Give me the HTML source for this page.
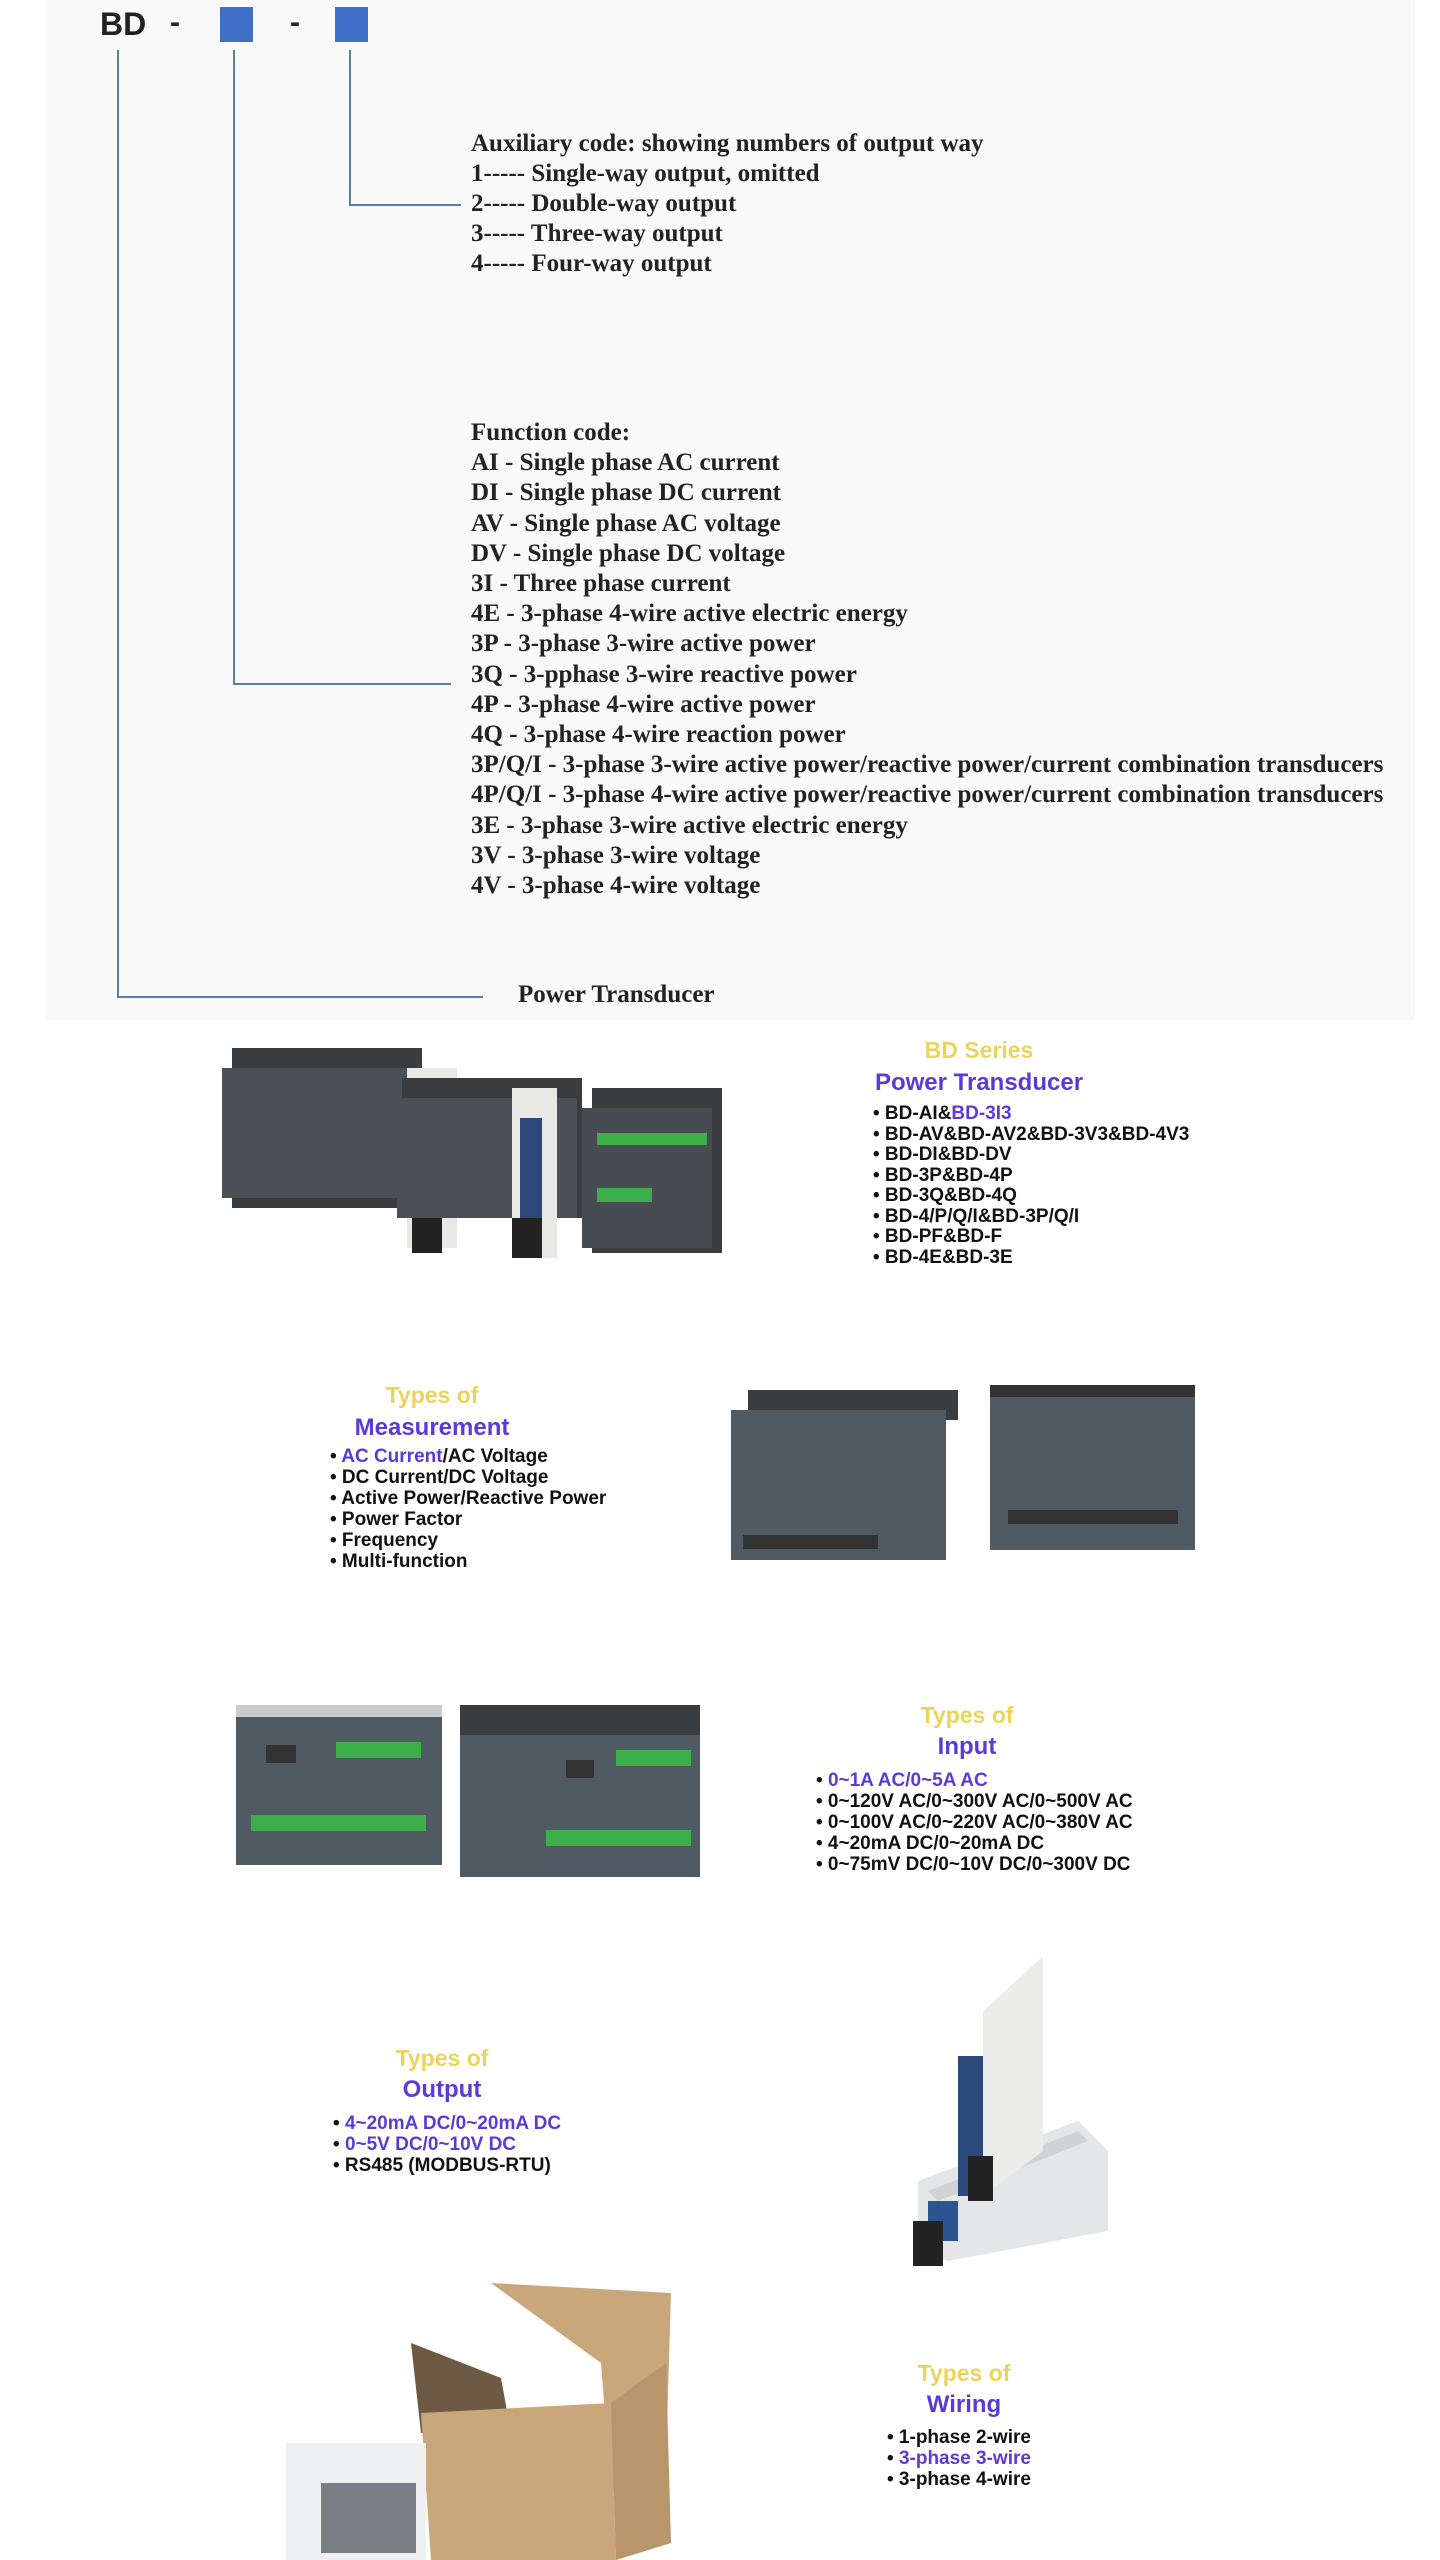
<!DOCTYPE html>
<html><head><meta charset="utf-8"><style>
html,body{margin:0;padding:0;background:#fff;}
body{width:1440px;height:2560px;position:relative;overflow:hidden;font-family:"Liberation Sans",sans-serif;}
.a{position:absolute;white-space:nowrap;}
.serif{font-family:"Liberation Serif",serif;font-weight:bold;font-size:25px;color:#222;line-height:30px;}
.ln{position:absolute;background:#5a7fa0;}
.t1{font-weight:bold;color:#ecd35c;font-size:23px;line-height:24px;transform:translateX(-50%);}
.t2{font-weight:bold;color:#5b3bd6;font-size:24px;line-height:24px;transform:translateX(-50%);}
.ul{font-weight:bold;font-size:19px;line-height:21px;color:#111;}
.p{color:#5b3bd6;}
</style></head><body>
<div class="a" style="left:45px;top:0;width:1370px;height:1020px;background:#f9f9f9;"></div>
<div class="a" style="left:100px;top:6px;font-size:32px;font-weight:bold;color:#222;">BD</div>
<div class="a" style="left:170px;top:6px;font-size:30px;font-weight:bold;color:#222;">-</div>
<div class="a" style="left:290px;top:6px;font-size:30px;font-weight:bold;color:#222;">-</div>
<div class="a" style="left:220px;top:7px;width:33px;height:35px;background:#3f6fc6;"></div>
<div class="a" style="left:335px;top:7px;width:33px;height:35px;background:#3f6fc6;"></div>
<div class="ln" style="left:117px;top:50px;width:2px;height:947px;"></div>
<div class="ln" style="left:117px;top:996px;width:366px;height:2px;"></div>
<div class="ln" style="left:233px;top:50px;width:2px;height:634px;"></div>
<div class="ln" style="left:233px;top:683px;width:218px;height:2px;"></div>
<div class="ln" style="left:349px;top:50px;width:2px;height:156px;"></div>
<div class="ln" style="left:349px;top:204px;width:112px;height:2px;"></div>
<div class="a serif" style="left:471px;top:129px;">Auxiliary code: showing numbers of output way<br>1----- Single-way output, omitted<br>2----- Double-way output<br>3----- Three-way output<br>4----- Four-way output</div>
<div class="a serif" style="left:471px;top:418px;line-height:30.2px;">Function code:<br>AI - Single phase AC current<br>DI - Single phase DC current<br>AV - Single phase AC voltage<br>DV - Single phase DC voltage<br>3I - Three phase current<br>4E - 3-phase 4-wire active electric energy<br>3P - 3-phase 3-wire active power<br>3Q - 3-pphase 3-wire reactive power<br>4P - 3-phase 4-wire active power<br>4Q - 3-phase 4-wire reaction power<br>3P/Q/I - 3-phase 3-wire active power/reactive power/current combination transducers<br>4P/Q/I - 3-phase 4-wire active power/reactive power/current combination transducers<br>3E - 3-phase 3-wire active electric energy<br>3V - 3-phase 3-wire voltage<br>4V - 3-phase 4-wire voltage</div>
<div class="a serif" style="left:518px;top:980px;">Power Transducer</div>

<svg class="a" style="left:222px;top:1028px" width="510" height="232">
<rect x="10" y="20" width="190" height="160" fill="#3a3d40"/><rect x="0" y="40" width="195" height="130" fill="#4a5056"/>
<rect x="185" y="40" width="50" height="180" fill="#e8e8e4"/><rect x="195" y="60" width="25" height="120" fill="#2b4a7a"/>
<rect x="190" y="185" width="30" height="40" fill="#222"/>
<rect x="180" y="50" width="180" height="140" fill="#3a3d40"/><rect x="175" y="70" width="180" height="120" fill="#4a5056"/>
<rect x="290" y="60" width="45" height="170" fill="#e8e8e4"/><rect x="298" y="90" width="22" height="110" fill="#2b4a7a"/>
<rect x="290" y="190" width="30" height="40" fill="#222"/>
<rect x="370" y="60" width="130" height="165" fill="#3a3d40"/><rect x="360" y="80" width="130" height="140" fill="#474c52"/>
<rect x="375" y="105" width="110" height="12" fill="#3cae4a"/><rect x="375" y="160" width="55" height="14" fill="#3cae4a"/>
</svg>
<div class="a t1" style="left:979px;top:1038px;">BD Series</div>
<div class="a t2" style="left:979px;top:1071px;">Power Transducer</div>
<div class="a ul" style="left:873px;top:1104px;line-height:20.5px;">• BD-AI&amp;<span class="p">BD-3I3</span><br>• BD-AV&amp;BD-AV2&amp;BD-3V3&amp;BD-4V3<br>• BD-DI&amp;BD-DV<br>• BD-3P&amp;BD-4P<br>• BD-3Q&amp;BD-4Q<br>• BD-4/P/Q/I&amp;BD-3P/Q/I<br>• BD-PF&amp;BD-F<br>• BD-4E&amp;BD-3E</div>

<div class="a t1" style="left:432px;top:1383px;">Types of</div>
<div class="a t2" style="left:432px;top:1416px;">Measurement</div>
<div class="a ul" style="left:330px;top:1446px;">• <span class="p">AC Current</span>/AC Voltage<br>• DC Current/DC Voltage<br>• Active Power/Reactive Power<br>• Power Factor<br>• Frequency<br>• Multi-function</div>
<svg class="a" style="left:728px;top:1385px" width="480" height="180">
<rect x="20" y="5" width="210" height="30" fill="#3a3d40"/><rect x="3" y="25" width="215" height="150" fill="#4f5a62"/>
<rect x="15" y="150" width="135" height="14" fill="#333"/>
<rect x="262" y="5" width="205" height="160" fill="#4f5a62"/><rect x="262" y="0" width="205" height="12" fill="#333"/>
<rect x="280" y="125" width="170" height="14" fill="#333"/>
</svg>

<svg class="a" style="left:236px;top:1705px" width="490" height="175">
<rect x="0" y="0" width="206" height="160" fill="#4f5a62"/><rect x="0" y="0" width="206" height="12" fill="#c8ccd0"/>
<rect x="100" y="37" width="85" height="16" fill="#3cae4a"/><rect x="15" y="110" width="175" height="16" fill="#3cae4a"/>
<rect x="30" y="40" width="30" height="18" fill="#333"/>
<rect x="224" y="0" width="240" height="172" fill="#4f5a62"/><rect x="224" y="0" width="240" height="30" fill="#3a3d40"/>
<rect x="380" y="45" width="75" height="16" fill="#3cae4a"/><rect x="310" y="125" width="145" height="16" fill="#3cae4a"/>
<rect x="330" y="55" width="28" height="18" fill="#333"/>
</svg>
<div class="a t1" style="left:967px;top:1703px;">Types of</div>
<div class="a t2" style="left:967px;top:1735px;">Input</div>
<div class="a ul" style="left:816px;top:1770px;">• <span class="p">0~1A AC/0~5A AC</span><br>• 0~120V AC/0~300V AC/0~500V AC<br>• 0~100V AC/0~220V AC/0~380V AC<br>• 4~20mA DC/0~20mA DC<br>• 0~75mV DC/0~10V DC/0~300V DC</div>

<svg class="a" style="left:828px;top:1951px" width="290" height="315">
<polygon points="90,230 250,170 280,200 280,280 120,310 90,300" fill="#e4e6e8"/>
<polygon points="100,240 250,180 260,190 110,250" fill="#cfd3d6"/>
<rect x="100" y="250" width="30" height="40" fill="#2a5592"/>
<polygon points="155,60 215,5 215,200 155,245" fill="#ececea"/>
<rect x="130" y="105" width="25" height="140" fill="#2b4a7a"/>
<rect x="140" y="205" width="25" height="45" fill="#222"/>
<rect x="85" y="270" width="30" height="45" fill="#222"/>
</svg>
<div class="a t1" style="left:442px;top:2046px;">Types of</div>
<div class="a t2" style="left:442px;top:2078px;">Output</div>
<div class="a ul" style="left:333px;top:2113px;">• <span class="p">4~20mA DC/0~20mA DC</span><br>• <span class="p">0~5V DC/0~10V DC</span><br>• RS485 (MODBUS-RTU)</div>

<svg class="a" style="left:281px;top:2283px" width="390" height="277">
<polygon points="210,0 390,10 385,180 330,210 320,80" fill="#c9a77a"/>
<polygon points="130,60 220,95 230,150 140,150" fill="#6e5a44"/>
<polygon points="140,130 330,120 335,277 150,277" fill="#c9a77a"/>
<polygon points="330,120 385,80 390,260 335,277" fill="#b8956a"/>
<rect x="5" y="160" width="140" height="117" fill="#eef0f2"/>
<rect x="40" y="200" width="95" height="70" fill="#7a7f85"/>
</svg>
<div class="a t1" style="left:964px;top:2361px;">Types of</div>
<div class="a t2" style="left:964px;top:2393px;">Wiring</div>
<div class="a ul" style="left:887px;top:2427px;">• 1-phase 2-wire<br>• <span class="p">3-phase 3-wire</span><br>• 3-phase 4-wire</div>
</body></html>
